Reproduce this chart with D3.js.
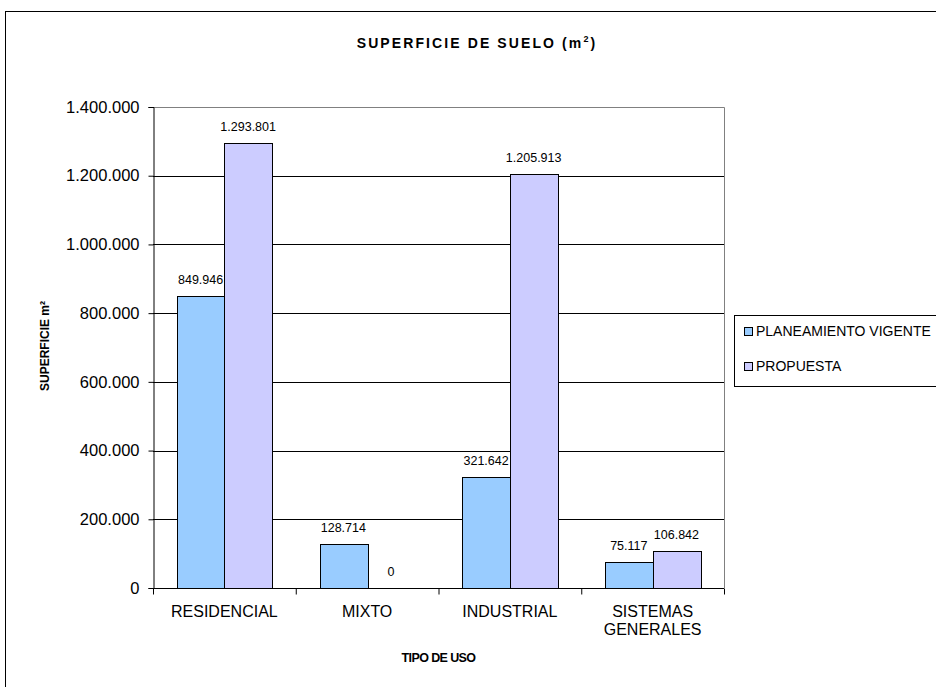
<!DOCTYPE html>
<html>
<head>
<meta charset="utf-8">
<script src="https://cdn.jsdelivr.net/npm/d3@7"></script>
<style>
  html, body { margin: 0; padding: 0; background: #fff; }
  svg { display: block; font-family: "Liberation Sans", Arial, sans-serif; }
</style>
</head>
<body>
<svg id="chart" width="936" height="687"></svg>
<script>
const categories = [["RESIDENCIAL"], ["MIXTO"], ["INDUSTRIAL"], ["SISTEMAS", "GENERALES"]];
const seriesNames = ["PLANEAMIENTO VIGENTE", "PROPUESTA"];
const planeamiento = [849946, 128714, 321642, 75117];
const propuesta = [1293801, 0, 1205913, 106842];
const yTicks = [0, 200000, 400000, 600000, 800000, 1000000, 1200000, 1400000];
const colors = ["#99CCFF", "#CCCCFF"];

const fmt = v => d3.format(",")(v).replace(/,/g, ".");

const svg = d3.select("#chart");
const m = { left: 153, right: 724, top: 107, bottom: 588 };

// outer chart border
svg.append("rect").attr("x", 5.5).attr("y", 11.5).attr("width", 1000).attr("height", 1000)
  .attr("fill", "none").attr("stroke", "#000").attr("stroke-width", 1);

const x = d3.scaleBand().domain(d3.range(categories.length)).range([m.left, m.right]).padding(0);
const y = d3.scaleLinear().domain([0, 1400000]).range([m.bottom, m.top]);

const barW = x.bandwidth() / 3;

// gridlines
svg.append("g").selectAll("line").data(yTicks.filter(d => d > 0 && d < 1400000)).join("line")
  .attr("x1", m.left).attr("x2", m.right)
  .attr("y1", d => Math.round(y(d)) + 0.5).attr("y2", d => Math.round(y(d)) + 0.5)
  .attr("stroke", "#000").attr("stroke-width", 1);

// plot area top/right border (gray)
svg.append("path")
  .attr("d", `M${m.left},${m.top + 0.5}H${m.right + 0.5}V${m.bottom}`)
  .attr("fill", "none").attr("stroke", "#808080").attr("stroke-width", 1);

// bars
const seriesData = [planeamiento, propuesta];
seriesData.forEach((vals, si) => {
  svg.append("g").selectAll("rect").data(vals).join("rect")
    .attr("x", (d, i) => Math.round(x(i) + barW / 2 + si * barW) + 0.5)
    .attr("y", d => Math.round(y(d)) + 0.5)
    .attr("width", Math.round(barW))
    .attr("height", d => Math.max(0, Math.round(y(0)) - Math.round(y(d))))
    .attr("fill", colors[si]).attr("stroke", d => d > 0 ? "#000" : "none").attr("stroke-width", 1);
  svg.append("g").selectAll("text").data(vals).join("text")
    .attr("x", (d, i) => x(i) + barW / 2 + si * barW + barW / 2)
    .attr("y", d => y(d) - 12)
    .attr("text-anchor", "middle").attr("font-size", "12.5px").attr("fill", "#000")
    .text(d => fmt(d));
});

// y axis
const yAxis = d3.axisLeft(y).tickValues(yTicks).tickFormat(fmt).tickSize(5).tickPadding(9);
const gy = svg.append("g").attr("transform", `translate(${m.left + 0.5},0)`).call(yAxis);
gy.select(".domain").attr("stroke", "#000");
gy.selectAll(".tick line").attr("stroke", "#000");
gy.selectAll(".tick text").attr("font-size", "16.5px").attr("font-family", "Liberation Sans, Arial, sans-serif").attr("fill", "#000");

// x axis
const xAxisScale = d3.scaleLinear().domain([0, categories.length]).range([m.left, m.right]);
const gx = svg.append("g").attr("transform", `translate(0,${m.bottom + 0.5})`)
  .call(d3.axisBottom(xAxisScale).tickValues(d3.range(categories.length + 1)).tickSize(6).tickFormat(""));
gx.select(".domain").attr("stroke", "#000").attr("d", `M${m.left},0H${m.right}`);
gx.selectAll(".tick line").attr("stroke", "#000");

// category labels
const catG = svg.append("g");
categories.forEach((lines, i) => {
  const t = catG.append("text")
    .attr("x", x(i) + x.bandwidth() / 2).attr("y", 617)
    .attr("text-anchor", "middle").attr("font-size", "16px").attr("fill", "#000");
  lines.forEach((l, j) => t.append("tspan").attr("x", x(i) + x.bandwidth() / 2).attr("dy", j === 0 ? 0 : 18).text(l));
});

// title
const title = svg.append("text").attr("x", 477).attr("y", 48).attr("text-anchor", "middle")
  .attr("font-size", "14px").attr("font-weight", "bold").attr("letter-spacing", "2.1px").attr("fill", "#000");
title.append("tspan").text("SUPERFICIE DE SUELO (m");
title.append("tspan").attr("font-size", "9px").attr("dy", -6).text("2");
title.append("tspan").attr("font-size", "14px").attr("dy", 6).text(")");

// axis titles
svg.append("text").attr("x", 438.5).attr("y", 662).attr("text-anchor", "middle")
  .attr("font-size", "12.5px").attr("font-weight", "bold").attr("letter-spacing", "-0.6px").attr("fill", "#000")
  .text("TIPO DE USO");
svg.append("text").attr("transform", "translate(49,346) rotate(-90)").attr("text-anchor", "middle")
  .attr("font-size", "12px").attr("font-weight", "bold").attr("fill", "#000")
  .text("SUPERFICIE m²");

// legend
const lg = svg.append("g");
lg.append("rect").attr("x", 734.5).attr("y", 315.5).attr("width", 260).attr("height", 71)
  .attr("fill", "#fff").attr("stroke", "#000").attr("stroke-width", 1);
seriesNames.forEach((n, i) => {
  const yy = 336 + i * 35;
  lg.append("rect").attr("x", 744.5).attr("y", yy - 8.5).attr("width", 8).attr("height", 8)
    .attr("fill", colors[i]).attr("stroke", "#000");
  lg.append("text").attr("x", 756).attr("y", yy).attr("font-size", "14px").attr("fill", "#000").text(n);
});
</script>
</body>
</html>
